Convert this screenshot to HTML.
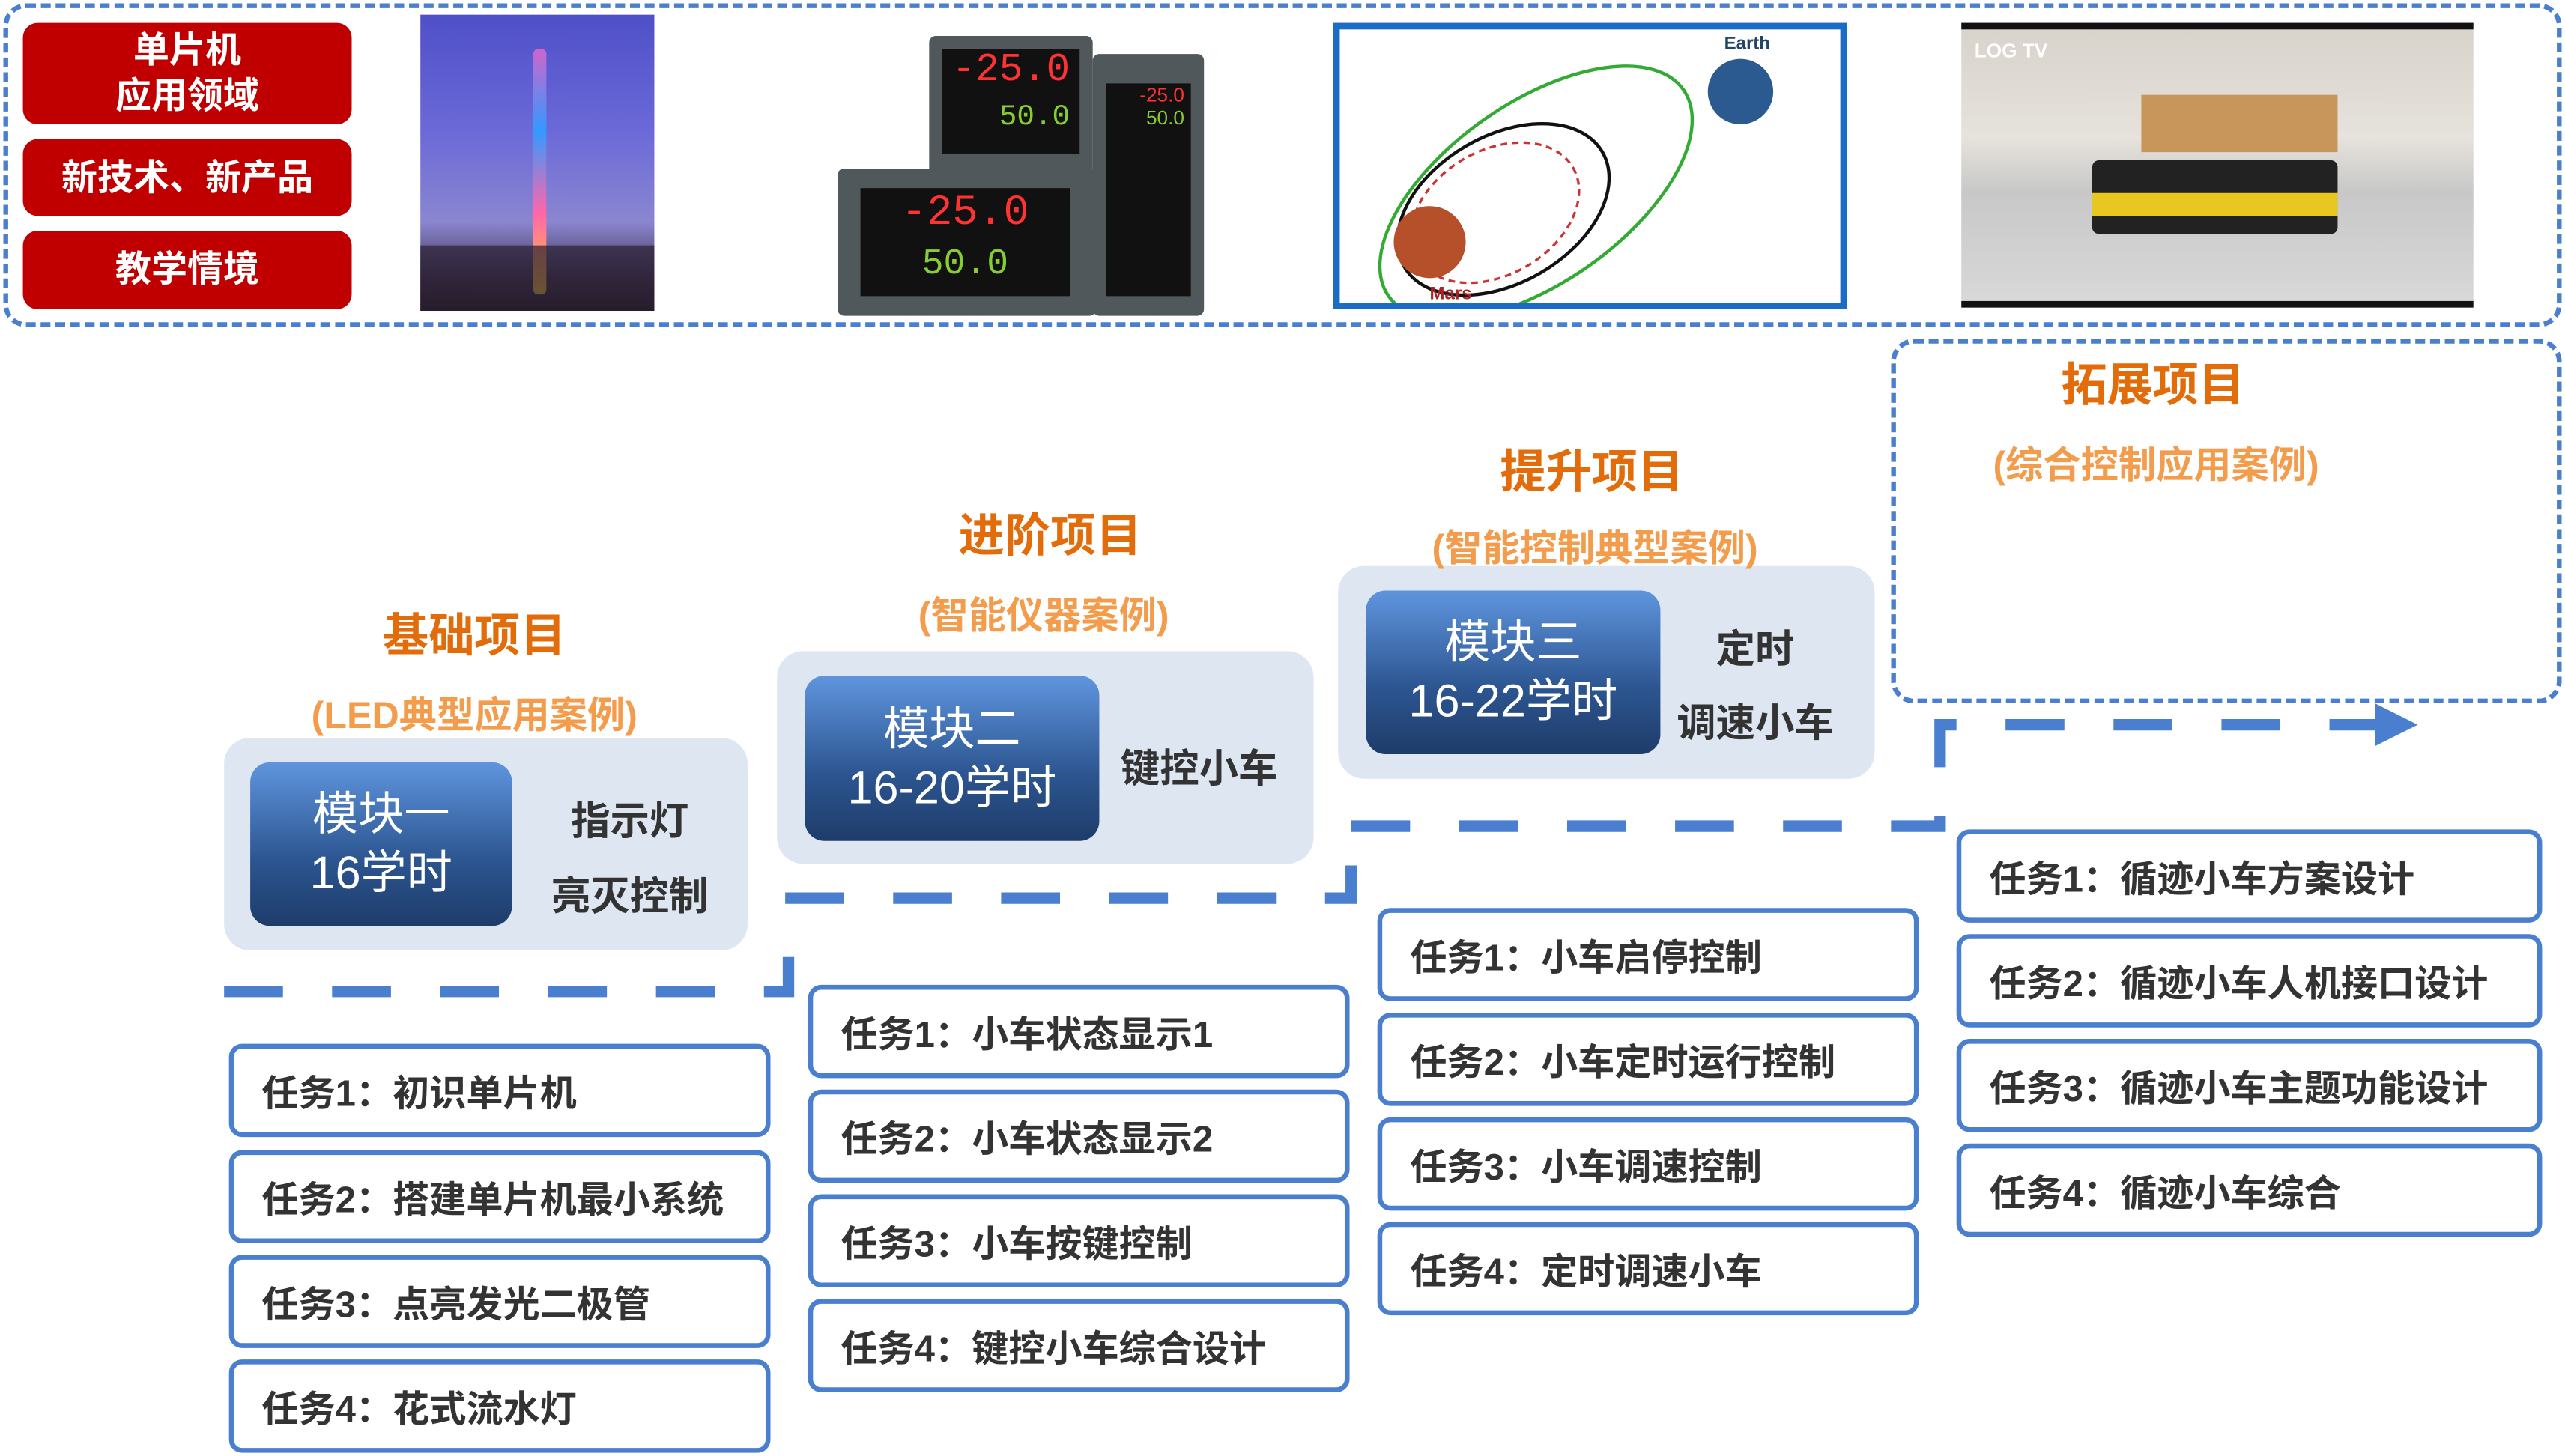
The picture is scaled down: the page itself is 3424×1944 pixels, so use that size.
<!DOCTYPE html>
<html><head><meta charset="utf-8"><style>
html,body{margin:0;padding:0;background:#fff;}
body{width:3424px;height:1944px;overflow:hidden;}
#s{position:absolute;left:0;top:0;width:1568px;height:890px;transform:scale(2.18367,2.18427);transform-origin:0 0;font-family:"Liberation Sans","Noto Sans CJK SC",sans-serif;}
.a{position:absolute;box-sizing:border-box;}
.red{background:#c00000;border-radius:9px;color:#fff;font-weight:bold;font-size:22px;display:flex;align-items:center;justify-content:center;text-align:center;line-height:28px;}
.t{position:absolute;transform:translateX(-50%);white-space:nowrap;font-weight:bold;z-index:3;}
.h{color:#e36c0a;font-size:28px;}
.sub{color:#f29c4c;font-size:23px;}
.panel{background:#dde6f1;border-radius:16px;}
.mod{border-radius:12px;background:linear-gradient(#5f95de,#2c5590 60%,#1e3c6a);color:#fff;font-size:28px;line-height:36px;display:flex;align-items:center;justify-content:center;text-align:center;}
.rt{position:absolute;transform:translateX(-50%);white-space:nowrap;font-weight:bold;font-size:24px;color:#333;}
.task{position:absolute;box-sizing:border-box;border:3px solid #4a7fcf;border-radius:8px;background:#fff;font-weight:bold;font-size:22.5px;color:#333;padding-left:17px;display:flex;align-items:center;height:57px;}
</style></head><body><div id="s">
<div class="a" style="left:2px;top:2px;width:1564px;height:198px;border:3px dashed #4a7fcf;border-radius:14px;"></div>
<div class="a red" style="left:14px;top:14px;width:201px;height:62px;">单片机<br>应用领域</div>
<div class="a red" style="left:14px;top:85px;width:201px;height:47px;">新技术、新产品</div>
<div class="a red" style="left:14px;top:141px;width:201px;height:48px;">教学情境</div>
<div class="a" style="left:257px;top:9px;width:143px;height:181px;background:linear-gradient(#4f4fc8,#6c6ad8 40%,#8a86d0 70%,#403050 90%,#201820);"></div>
<div class="a" style="left:326px;top:30px;width:8px;height:150px;background:linear-gradient(#cc66cc,#3399ff,#ff66aa,#ffcc33);border-radius:3px;"></div>
<div class="a" style="left:257px;top:150px;width:143px;height:40px;background:#2a2030;opacity:.7;"></div>
<div class="a" style="left:568px;top:22px;width:100px;height:90px;background:#50585c;border-radius:4px;"><div class="a" style="left:8px;top:8px;width:84px;height:64px;background:#111;color:#f33;font-size:24px;font-family:'Liberation Mono',monospace;text-align:right;padding-right:6px;">-25.0<br><span style="color:#8c3;font-size:18px">50.0</span></div></div>
<div class="a" style="left:668px;top:33px;width:68px;height:160px;background:#50585c;border-radius:4px;"><div class="a" style="left:8px;top:18px;width:52px;height:130px;background:#111;color:#f33;font-size:12px;text-align:right;padding-right:4px;">-25.0<br><span style="color:#8c3">50.0</span></div></div>
<div class="a" style="left:512px;top:103px;width:158px;height:90px;background:#50585c;border-radius:4px;"><div class="a" style="left:14px;top:12px;width:128px;height:66px;background:#111;color:#f33;font-size:26px;font-family:'Liberation Mono',monospace;text-align:center;line-height:30px;">-25.0<br><span style="color:#8c3;font-size:22px">50.0</span></div></div>
<div class="a" style="left:815px;top:14px;width:314px;height:175px;border:4px solid #1a6cc4;background:#fff;overflow:hidden;">
<svg width="306" height="167" viewBox="0 0 306 167"><ellipse cx="120" cy="100" rx="110" ry="55" transform="rotate(-35 120 100)" fill="none" stroke="#3a3" stroke-width="2"/><ellipse cx="100" cy="110" rx="70" ry="45" transform="rotate(-30 100 110)" fill="none" stroke="#111" stroke-width="2"/><ellipse cx="95" cy="112" rx="55" ry="38" transform="rotate(-30 95 112)" fill="none" stroke="#c33" stroke-width="1.5" stroke-dasharray="4 3"/><circle cx="55" cy="130" r="22" fill="#b5502a"/><circle cx="245" cy="38" r="20" fill="#2a5a90"/><text x="235" y="12" font-size="11" fill="#246" font-weight="bold">Earth</text><text x="55" y="165" font-size="11" fill="#a22" font-weight="bold">Mars</text></svg></div>
<div class="a" style="left:1199px;top:14px;width:313px;height:174px;background:linear-gradient(#d8d4cc,#e6e2dc 40%,#c8c8c8 60%,#d8d8d8);border-top:4px solid #111;border-bottom:4px solid #111;">
<div class="a" style="left:80px;top:80px;width:150px;height:45px;background:#222;border-radius:4px;"></div>
<div class="a" style="left:80px;top:100px;width:150px;height:14px;background:#e8c820;"></div>
<div class="a" style="left:110px;top:40px;width:120px;height:35px;background:#c8955a;"></div>
<div class="a" style="left:8px;top:6px;color:#fff;font-size:12px;font-weight:bold;">LOG TV</div></div>
<div class="a" style="left:1156px;top:207px;width:410px;height:223px;border:3px dashed #4a7fcf;border-radius:14px;"></div>
<div class="a panel" style="left:137px;top:451px;width:320px;height:130px;"></div>
<div class="a mod" style="left:153px;top:466px;width:160px;height:100px;">模块一<br>16学时</div>
<div class="rt" style="left:385px;top:482px;">指示灯</div>
<div class="rt" style="left:385px;top:528px;">亮灭控制</div>
<div class="a panel" style="left:475px;top:398px;width:328px;height:130px;"></div>
<div class="a mod" style="left:492px;top:413px;width:180px;height:101px;">模块二<br>16-20学时</div>
<div class="rt" style="left:733px;top:450px;">键控小车</div>
<div class="a panel" style="left:818px;top:346px;width:328px;height:130px;"></div>
<div class="a mod" style="left:835px;top:361px;width:180px;height:100px;">模块三<br>16-22学时</div>
<div class="rt" style="left:1073px;top:377px;">定时</div>
<div class="rt" style="left:1073px;top:422px;">调速小车</div>
<div class="t h" style="left:290px;top:367px;">基础项目</div>
<div class="t sub" style="left:290px;top:418px;">(LED典型应用案例)</div>
<div class="t h" style="left:642px;top:306px;">进阶项目</div>
<div class="t sub" style="left:638px;top:357px;">(智能仪器案例)</div>
<div class="t h" style="left:973px;top:267px;">提升项目</div>
<div class="t sub" style="left:975px;top:316px;">(智能控制典型案例)</div>
<div class="t h" style="left:1316px;top:214px;">拓展项目</div>
<div class="t sub" style="left:1318px;top:265px;">(综合控制应用案例)</div>
<svg class="a" style="left:0;top:0;" width="1568" height="890"><g fill="none" stroke="#4a7fcf" stroke-width="7" stroke-dasharray="36 30"><path d="M137 606 H482 V583"/><path d="M480 549 H826 V511"/><path d="M826 505 H1186 V443 H1455"/></g><polygon points="1452,430 1478,443 1452,456" fill="#4a7fcf"/></svg>
<div class="task" style="left:140px;top:638px;width:331px;">任务1：初识单片机</div>
<div class="task" style="left:140px;top:703px;width:331px;">任务2：搭建单片机最小系统</div>
<div class="task" style="left:140px;top:767px;width:331px;">任务3：点亮发光二极管</div>
<div class="task" style="left:140px;top:831px;width:331px;">任务4：花式流水灯</div>
<div class="task" style="left:494px;top:602px;width:331px;">任务1：小车状态显示1</div>
<div class="task" style="left:494px;top:666px;width:331px;">任务2：小车状态显示2</div>
<div class="task" style="left:494px;top:730px;width:331px;">任务3：小车按键控制</div>
<div class="task" style="left:494px;top:794px;width:331px;">任务4：键控小车综合设计</div>
<div class="task" style="left:842px;top:555px;width:331px;">任务1：小车启停控制</div>
<div class="task" style="left:842px;top:619px;width:331px;">任务2：小车定时运行控制</div>
<div class="task" style="left:842px;top:683px;width:331px;">任务3：小车调速控制</div>
<div class="task" style="left:842px;top:747px;width:331px;">任务4：定时调速小车</div>
<div class="task" style="left:1196px;top:507px;width:358px;">任务1：循迹小车方案设计</div>
<div class="task" style="left:1196px;top:571px;width:358px;">任务2：循迹小车人机接口设计</div>
<div class="task" style="left:1196px;top:635px;width:358px;">任务3：循迹小车主题功能设计</div>
<div class="task" style="left:1196px;top:699px;width:358px;">任务4：循迹小车综合</div>
</div></body></html>
